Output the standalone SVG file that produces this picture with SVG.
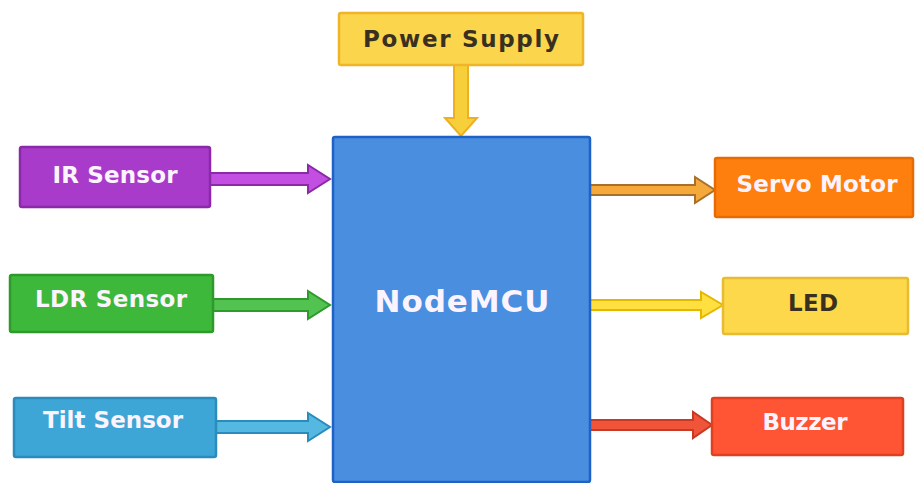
<svg xmlns="http://www.w3.org/2000/svg" width="915" height="483" viewBox="0 0 915 483">
<style>
.box{stroke-width:2.5}
.lbl{font-family:"DejaVu Sans","Open Sans",sans-serif;font-weight:700;font-size:23px;text-anchor:middle;dominant-baseline:central}
.w{fill:#fbf4ff}
.d{fill:#3a3020}
.arr{stroke-width:2;stroke-linejoin:miter}
</style>
<rect width="915" height="483" fill="#ffffff"/>
<g id="connectors">
<path class="arr" fill="#f7cf3a" stroke="#eeb020" d="M454,65 L454,118 L445,118 L461,136 L477,118 L468,118 L468,65 Z"/>
<path class="arr" fill="#c24fe2" stroke="#8a2aa8" d="M210,173 L308,173 L308,165 L330,179 L308,193 L308,185 L210,185 Z"/>
<path class="arr" fill="#52c250" stroke="#2f9a2c" d="M213,299 L308,299 L308,291 L330,305 L308,319 L308,311 L213,311 Z"/>
<path class="arr" fill="#55b8e0" stroke="#2a8bbd" d="M216,421 L308,421 L308,413 L330,427 L308,441 L308,433 L216,433 Z"/>
<path class="arr" fill="#f5a93a" stroke="#a8702a" d="M590,185 L695,185 L695,177 L715,190 L695,203 L695,195 L590,195 Z"/>
<path class="arr" fill="#ffe040" stroke="#e5b800" d="M590,300 L701,300 L701,292 L723,305 L701,318 L701,310 L590,310 Z"/>
<path class="arr" fill="#f0553a" stroke="#c83a25" d="M590,420 L693,420 L693,412 L712,425 L693,438 L693,430 L590,430 Z"/>
</g>
<g id="power-supply">
<rect class="box" x="339" y="13" width="244" height="52" rx="2" fill="#fbd54c" stroke="#f0b429"/>
<text class="lbl d" x="461" y="39" textLength="196" lengthAdjust="spacing">Power Supply</text>
</g>
<g id="nodemcu">
<rect class="box" x="333" y="137" width="257" height="345" rx="2" fill="#4a8ee0" stroke="#1e62c6" stroke-width="3"/>
<text class="lbl w" x="462" y="301" style="font-size:31px" textLength="175" lengthAdjust="spacing">NodeMCU</text>
</g>
<g id="ir-sensor">
<rect class="box" x="20" y="147" width="190" height="60" rx="2" fill="#a93bcb" stroke="#8a2aa8"/>
<text class="lbl w" x="115" y="175" textLength="125" lengthAdjust="spacing">IR Sensor</text>
</g>
<g id="ldr-sensor">
<rect class="box" x="10" y="275" width="203" height="57" rx="2" fill="#3db83a" stroke="#2f9a2c"/>
<text class="lbl w" x="111" y="299" textLength="152" lengthAdjust="spacing">LDR Sensor</text>
</g>
<g id="tilt-sensor">
<rect class="box" x="14" y="398" width="202" height="59" rx="2" fill="#3ea6d6" stroke="#2a8bbd"/>
<text class="lbl w" x="113" y="420" textLength="140" lengthAdjust="spacing">Tilt Sensor</text>
</g>
<g id="servo-motor">
<rect class="box" x="715" y="158" width="198" height="59" rx="2" fill="#ff7f0e" stroke="#e86a00"/>
<text class="lbl w" x="817" y="184" textLength="161" lengthAdjust="spacing">Servo Motor</text>
</g>
<g id="led">
<rect class="box" x="723" y="278" width="185" height="56" rx="2" fill="#fdd84a" stroke="#e8bc30"/>
<text class="lbl d" x="813" y="303" textLength="50" lengthAdjust="spacing">LED</text>
</g>
<g id="buzzer">
<rect class="box" x="712" y="398" width="191" height="57" rx="2" fill="#ff5534" stroke="#e04020"/>
<text class="lbl w" x="805" y="422" textLength="85" lengthAdjust="spacing">Buzzer</text>
</g>
</svg>
